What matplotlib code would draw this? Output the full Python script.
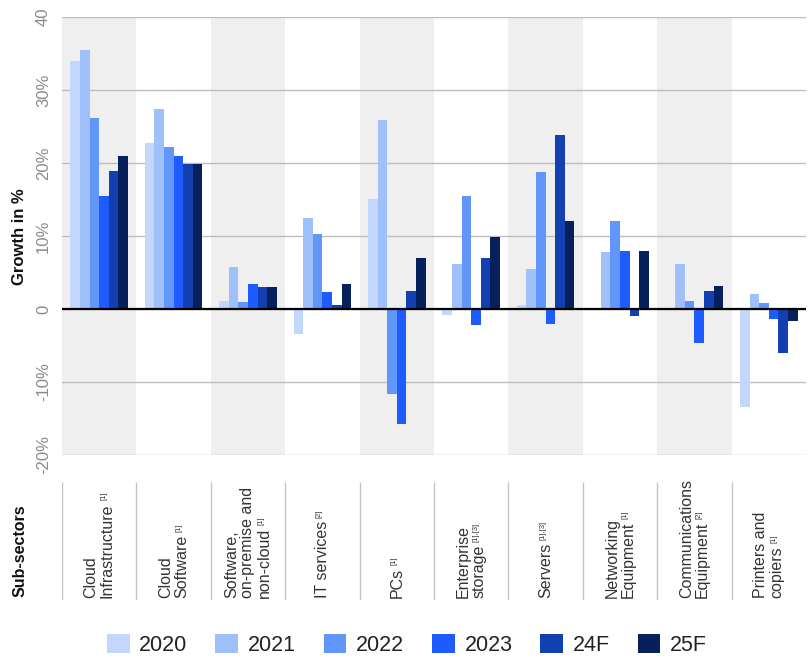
import numpy as np
import matplotlib.pyplot as plt
from matplotlib.patches import Patch

plt.rcParams['font.family'] = ['Liberation Sans', 'DejaVu Sans']

# --- data (growth in %) ---
categories = [
    ["Cloud", "Infrastructure"],
    ["Cloud", "Software"],
    ["Software,", "on-premise and", "non-cloud"],
    ["IT services"],
    ["PCs"],
    ["Enterprise", "storage"],
    ["Servers"],
    ["Networking", "Equipment"],
    ["Communications", "Equipment"],
    ["Printers and", "copiers"],
]
footnotes = ["[1]", "[1]", "[1]", "[2]", "[1]", "[1],[3]", "[1],[3]", "[1]", "[2]", "[1]"]
series_names = ["2020", "2021", "2022", "2023", "24F", "25F"]
g2020 = [34.0, 22.8, 1.1, -3.4, 15.1, -0.8, 0.6, -0.1, 0.0, -13.4]
g2021 = [35.5, 27.4, 5.7, 12.5, 25.9, 6.1, 5.5, 7.8, 6.1, 2.0]
g2022 = [26.1, 22.2, 1.0, 10.3, -11.7, 15.5, 18.7, 12.1, 1.1, 0.8]
g2023 = [15.5, 20.9, 3.4, 2.3, -15.7, -2.2, -2.1, 7.9, -4.7, -1.4]
g24f = [18.9, 19.9, 3.0, 0.5, 2.5, 7.0, 23.9, -1.0, 2.5, -6.0]
g25f = [20.9, 19.9, 3.0, 3.4, 7.0, 9.9, 12.0, 8.0, 3.1, -1.7]
series = [g2020, g2021, g2022, g2023, g24f, g25f]
colors = ['#c3d6fd', '#a0c0fc', '#6196fb', '#1f5cff', '#1240b0', '#05205a']
ytick_vals = [-20, -10, 0, 10, 20, 30, 40]
ytick_labels = ["-20%", "-10%", "0", "10%", "20%", "30%", "40"]

W, H = 812, 659
fig = plt.figure(figsize=(W / 100, H / 100), dpi=100)
L, R = 62, 806

# main chart
ax = fig.add_axes([L / W, 1 - 455 / H, (R - L) / W, (455 - 17) / H])
n = len(categories)
x = np.arange(n)
ax.set_xlim(-0.5, n - 0.5)
ax.set_ylim(-20, 40)

for i in range(0, n, 2):
    ax.axvspan(i - 0.5, i + 0.5, color='#efefef', lw=0, zorder=0)

bw = 0.129
for j, (vals, c) in enumerate(zip(series, colors)):
    ax.bar(x + (j - 2.5) * bw, vals, width=bw, color=c, zorder=2, lw=0)

ax.axhline(0, color='black', lw=1.6, zorder=3)
ax.set_yticks(ytick_vals)
ax.set_yticklabels(ytick_labels, rotation=90, va='center', color='#8a8a8a', fontsize=12)
ax.yaxis.grid(True, color='#bdbdbd', lw=1)
ax.set_axisbelow(True)
ax.set_xticks([])
ax.tick_params(axis='y', length=0, pad=8)
for s in ax.spines.values():
    s.set_visible(False)

fig.text(20 / W, 1 - 237 / H, "Growth in %", rotation=90, ha='center', va='center',
         fontsize=12, fontweight='bold', color='#111111')

# sub-sector labels area
ax2 = fig.add_axes([L / W, 1 - 600 / H, (R - L) / W, (600 - 482) / H])
ax2.set_xlim(-0.5, n - 0.5)
ax2.set_ylim(0, 1)
ax2.axis('off')
ax2.vlines(x - 0.5, 0, 1, color='#c4c4c4', lw=1)

renderer = fig.canvas.get_renderer()
band = (R - L) / n
line_gap = 16
for i, lines in enumerate(categories):
    cx = L + (i + 0.5) * band
    m = len(lines)
    last = None
    for k, ln in enumerate(lines):
        lx = cx + (k - (m - 1) / 2) * line_gap
        last = fig.text(lx / W, 1 - 598 / H, ln, rotation=90, ha='center', va='bottom',
                        fontsize=11.5, color='#333333')
        last_x = lx
    ext = last.get_window_extent(renderer)
    fig.text((last_x - 3) / W, (ext.y1 + 3) / H, footnotes[i], rotation=90,
             ha='center', va='bottom', fontsize=5.5, color='#333333')

fig.text(20 / W, 1 - 597 / H, "Sub-sectors", rotation=90, ha='center', va='bottom',
         fontsize=11.5, fontweight='bold', color='#111111')

handles = [Patch(facecolor=c, edgecolor='none') for c in colors]
fig.legend(handles, series_names, loc='center', bbox_to_anchor=(407 / W, 1 - 645 / H),
           ncol=6, frameon=False, fontsize=15.5, handlelength=1.05, handleheight=0.95,
           handletextpad=0.45, columnspacing=1.3, labelcolor='#222222',
           borderpad=0.0, borderaxespad=0.0)

fig.savefig('out.png', dpi=100)
